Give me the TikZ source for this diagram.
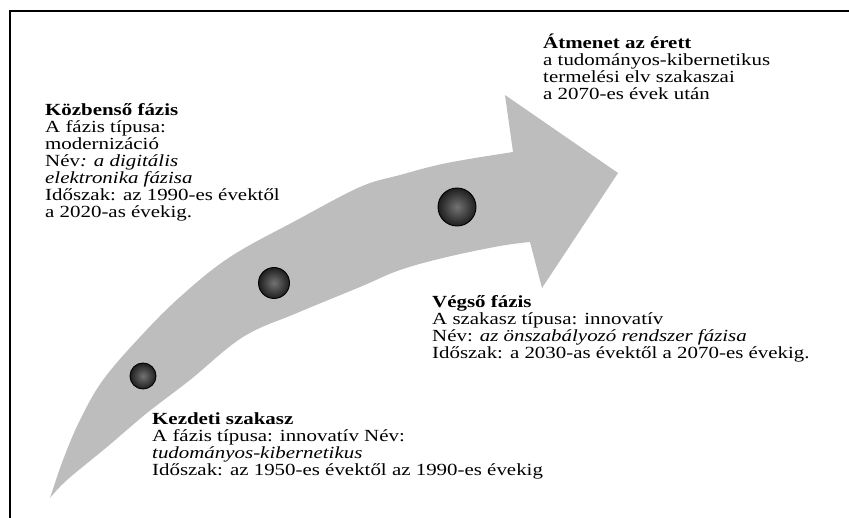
\documentclass[tikz,border=0pt]{standalone}
\usepackage{fontspec}
\setmainfont{Liberation Serif}[FakeStretch=1.23]
\definecolor{arrowgray}{HTML}{BDBDBD}
\newcommand\tightlines{\lineskiplimit=-30pt\relax\lineskip=0pt\relax}
\begin{document}
\begin{tikzpicture}[x=1pt,y=-1pt,
  txt/.style={anchor=north west, align=left, inner sep=0pt,
    font=\fontsize{17}{17}\selectfont\tightlines},
  dot/.style={circle, draw=black, line width=0.9pt, inner sep=0pt,
    inner color=black!55, outer color=black!88}]
\useasboundingbox (0,0) rectangle (849,518);
% frame
\draw[line width=2pt] (10,518) -- (10,11.5) -- (849,11.5);
% arrow
\fill[arrowgray] (513,152) -- (505,95) -- (618,173) -- (542,288) -- (530,242)
  -- plot[smooth, tension=0.6] coordinates {(530,242) (500,246) (447,257) (400,270) (360,287) (297,313) (243,337) (190,380) (147,413) (107,447) (67,480) (50,498)}
  -- plot[smooth, tension=0.6] coordinates {(50,498) (63,460) (80,420) (103,380) (140,337) (180,297) (230,257) (297,220) (360,187) (400,175) (447,163) (513,152)}
  -- cycle;
% dots
\node[dot, minimum size=26pt] (c1) at (143,376) {};
\node[dot, minimum size=31pt] (c2) at (274,283) {};
\node[dot, minimum size=38pt] (c3) at (457,207) {};
% texts
\node[txt] (kb) at (45,99) {\rule{0pt}{16pt}\textbf{Közbenső fázis}\\
A fázis típusa:\\
modernizáció\\
Név\textit{: a digitális}\\
\textit{elektronika fázisa}\\
Időszak: az 1990-es évektől\\
a 2020-as évekig.};
\node[txt] (at) at (543,32) {\rule{0pt}{16pt}\textbf{Átmenet az érett}\\
a tudományos-kibernetikus\\
termelési elv szakaszai\\
a 2070-es évek után};
\node[txt] (v) at (432,291) {\rule{0pt}{16pt}\textbf{Végső fázis}\\
A szakasz típusa: innovatív\\
Név: \textit{az önszabályozó rendszer fázisa}\\
Időszak: a 2030-as évektől a 2070-es évekig.};
\node[txt] (k) at (152,408) {\rule{0pt}{16pt}\textbf{Kezdeti szakasz}\\
A fázis típusa: innovatív Név:\\
\textit{tudományos-kibernetikus}\\
Időszak: az 1950-es évektől az 1990-es évekig};
\end{tikzpicture}
\end{document}
